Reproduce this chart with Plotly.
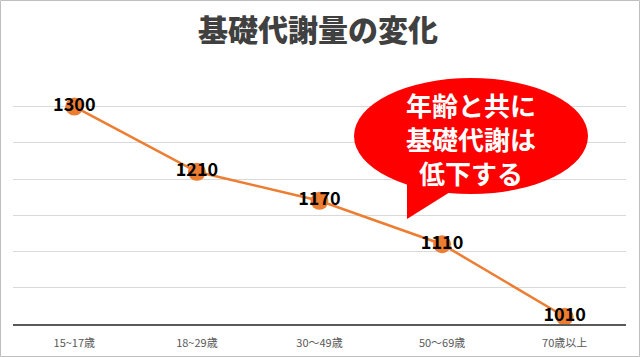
import plotly.graph_objects as go

categories = ["15~17歳", "18~29歳", "30～49歳", "50～69歳", "70歳以上"]
values = [1300, 1210, 1170, 1110, 1010]
labels = [str(v) for v in values]
title_text = "基礎代謝量の変化"
callout_text = "年齢と共に<br>基礎代謝は<br>低下する"

W, H = 640, 357
ML, MR, MT, MB = 13, 14, 70, 33
PW, PH = W - ML - MR, H - MT - MB


def px(x):
    return (x - ML) / PW


def py(y):
    return (H - MB - y) / PH


FONT = "Noto Sans CJK JP"
ORANGE = "#ED7D31"

fig = go.Figure()
fig.add_trace(go.Scatter(
    x=categories, y=values, text=labels,
    mode="lines+markers+text",
    line=dict(color=ORANGE, width=2.5),
    marker=dict(color=ORANGE, size=18),
    textposition="middle center",
    textfont=dict(family=FONT, size=18, color="#000000", weight="bold"),
    cliponaxis=False, hoverinfo="skip",
))

shapes = [
    dict(type="circle", xref="paper", yref="paper",
         x0=px(354), x1=px(588), y0=py(194), y1=py(78),
         fillcolor="#FF0000", line=dict(width=0), layer="above"),
    dict(type="path", xref="paper", yref="paper",
         path=f"M {px(407)},{py(175)} L {px(407)},{py(219)} L {px(458)},{py(187)} Z",
         fillcolor="#FF0000", line=dict(width=0), layer="above"),
    dict(type="rect", xref="paper", yref="paper",
         x0=px(0.5), x1=px(639.5), y0=py(356.5), y1=py(0.5),
         line=dict(color="#BFBFBF", width=1), fillcolor="rgba(0,0,0,0)", layer="above"),
]

fig.update_layout(
    width=W, height=H,
    margin=dict(l=ML, r=MR, t=MT, b=MB, autoexpand=False),
    paper_bgcolor="#FFFFFF", plot_bgcolor="#FFFFFF",
    showlegend=False,
    title=dict(text=title_text, x=0.497, xanchor="center", y=1 - 30 / H, yanchor="middle",
               yref="container",
               font=dict(family=FONT, size=30, color="#404040", weight=900)),
    xaxis=dict(type="category", range=[-0.5, 4.5], showgrid=False, zeroline=False,
               showline=True, linecolor="#595959", linewidth=2, ticks="",
               ticklabelstandoff=8, automargin=False,
               tickfont=dict(family=FONT, size=11, color="#595959")),
    yaxis=dict(range=[1000, 1350.4], tick0=1000, dtick=50, showticklabels=False, zeroline=False,
               showgrid=True, gridcolor="#D9D9D9", gridwidth=1, showline=False, ticks="",
               automargin=False),
    shapes=shapes,
    annotations=[dict(text=callout_text, xref="paper", yref="paper",
                      x=px(471), y=py(138), xanchor="center", yanchor="middle",
                      showarrow=False, align="center",
                      font=dict(family=FONT, size=26, color="#FFFFFF", weight="bold"))],
)

fig.write_html("out.html", config={"displayModeBar": False},
               post_script="document.body.style.margin='0';document.body.style.overflow='hidden';")
